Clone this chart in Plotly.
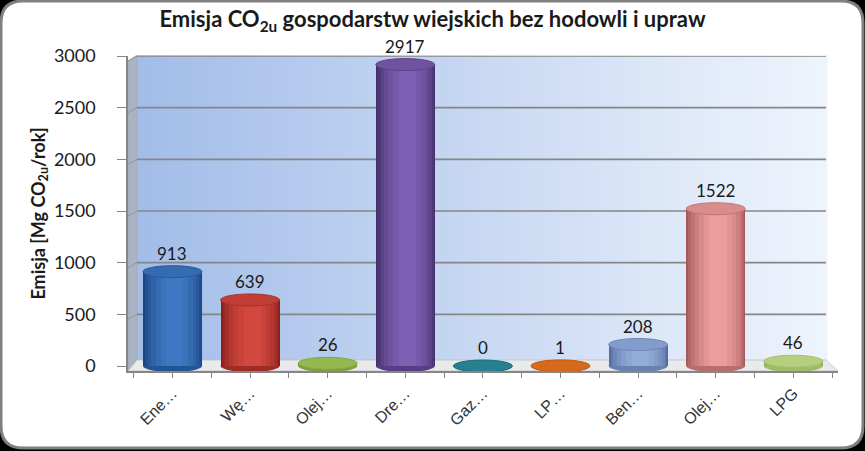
import plotly.graph_objects as go

# data
categories = ["Ene…", "Wę…", "Olej…", "Dre…", "Gaz…", "LP…", "Ben…", "Olej…", "LPG"]
emission = [913, 639, 26, 2917, 0, 1, 208, 1522, 46]
y_ticks = [0, 500, 1000, 1500, 2000, 2500, 3000]

# cylinder colours: dark edge -> highlight
edge_colors = ["#1a4582", "#8a1f1c", "#6f9130", "#44306b", "#18606e", "#ad4f0c", "#546ea0", "#a45a5a", "#8fb058"]
light_colors = ["#3f78c2", "#d3483e", "#a3c55a", "#7d5fb3", "#2a8a9b", "#e47222", "#94acd9", "#eb9c9c", "#c0da8c"]

W, H = 865, 451
L, R, T, B = 128, 838, 56, 371  # plot area in pixels


def px(x):
    return (x - L) / (R - L)


def py(y):
    return (B - y) / (B - T)


def mix(c1, c2, t):
    a = [int(c1[i:i + 2], 16) for i in (1, 3, 5)]
    b = [int(c2[i:i + 2], 16) for i in (1, 3, 5)]
    return "#" + "".join("%02x" % round(a[k] + (b[k] - a[k]) * t) for k in range(3))


xs = list(range(len(categories)))
bar_w = 0.76

fig = go.Figure()

# stacked overlays of narrowing bars give a rough cylinder shading
layers = [(0.76, 0.0), (0.72, 0.2), (0.66, 0.4), (0.58, 0.58), (0.48, 0.74), (0.36, 0.88), (0.22, 1.0)]
for w, t in layers:
    shift = 0.03 * t
    fig.add_trace(go.Bar(
        x=xs, y=emission, width=w, offset=-w / 2 + shift,
        marker=dict(color=[mix(e, l, t) for e, l in zip(edge_colors, light_colors)], line_width=0),
        hoverinfo="skip", showlegend=False,
    ))

shapes = []

# white card with rounded corners on black
x0, y0, x1, y1, r = 1, 1, 863, 448, 22
path = (f"M {px(x0 + r)},{py(y0)} L {px(x1 - r)},{py(y0)} Q {px(x1)},{py(y0)} {px(x1)},{py(y0 + r)} "
        f"L {px(x1)},{py(y1 - r)} Q {px(x1)},{py(y1)} {px(x1 - r)},{py(y1)} "
        f"L {px(x0 + r)},{py(y1)} Q {px(x0)},{py(y1)} {px(x0)},{py(y1 - r)} "
        f"L {px(x0)},{py(y0 + r)} Q {px(x0)},{py(y0)} {px(x0 + r)},{py(y0)} Z")
shapes.append(dict(type="path", path=path, xref="paper", yref="paper", layer="below",
                   fillcolor="white", line=dict(color="#7f7f7f", width=3)))

# back wall gradient
n = 60
wx0, wx1, wy0, wy1 = 137, 826, 55, 360
for i in range(n):
    a = wx0 + (wx1 - wx0) * i / n
    b = wx0 + (wx1 - wx0) * (i + 1) / n
    shapes.append(dict(type="rect", xref="paper", yref="paper", layer="below",
                       x0=px(a), x1=px(b) + 0.002, y0=py(wy1), y1=py(wy0),
                       fillcolor=mix("#a3bde9", "#eef4fc", i / (n - 1)), line_width=0))

# side wall
shapes.append(dict(type="path", xref="paper", yref="paper", layer="below",
                   path=f"M {px(128)},{py(61)} L {px(137)},{py(55)} L {px(137)},{py(360)} L {px(128)},{py(371)} Z",
                   fillcolor="#a9b3c2", line=dict(color="#9aa3b0", width=0.5)))
# floor
shapes.append(dict(type="path", xref="paper", yref="paper", layer="below",
                   path=f"M {px(128)},{py(371)} L {px(137)},{py(360)} L {px(826)},{py(360)} L {px(838)},{py(371)} Z",
                   fillcolor="#e9eaec", line=dict(color="#b8bcc2", width=0.7)))

# gridlines on the back wall and side wall
for v in y_ticks[1:]:
    shapes.append(dict(type="line", xref="paper", yref="y", layer="below",
                       x0=px(137), x1=px(826), y0=v, y1=v, line=dict(color="#868686", width=1.6)))
    shapes.append(dict(type="line", xref="paper", yref="y", layer="below", ysizemode="pixel", yanchor=v,
                       x0=px(128), x1=px(137), y0=-5, y1=0, line=dict(color="#8e96a3", width=1)))

# cylinder bottoms and tops
for i, v in enumerate(emission):
    shapes.append(dict(type="circle", xref="x", yref="y", layer="below", ysizemode="pixel", yanchor=0,
                       x0=i - bar_w / 2, x1=i + bar_w / 2, y0=-6, y1=6,
                       fillcolor=mix(edge_colors[i], light_colors[i], 0.3), line_width=0))
    shapes.append(dict(type="circle", xref="x", yref="y", layer="above", ysizemode="pixel", yanchor=v,
                       x0=i - bar_w / 2, x1=i + bar_w / 2, y0=-6, y1=6,
                       fillcolor=mix(edge_colors[i], light_colors[i], 0.75),
                       line=dict(color=mix(edge_colors[i], light_colors[i], 0.4), width=1)))

# value labels
for i, v in enumerate(emission):
    fig.add_annotation(x=i, y=v, text=str(v), showarrow=False, yanchor="bottom", yshift=6,
                       font=dict(family="Lato", size=17, color="#1a1a1a"))

fig.update_layout(
    width=W, height=H,
    margin=dict(l=L, r=W - R, t=T, b=H - B, pad=0),
    paper_bgcolor="black", plot_bgcolor="rgba(0,0,0,0)",
    barmode="overlay", bargap=0,
    shapes=shapes,
    title=dict(text="Emisja CO<sub>2u</sub> gospodarstw wiejskich bez hodowli i upraw",
               x=0.5, xanchor="center", y=0.957, yanchor="middle",
               font=dict(family="Lato", size=22, color="#1a1a1a", weight="bold")),
    xaxis=dict(range=[-0.573, 8.576], tickmode="array", tickvals=xs, ticktext=categories,
               tickangle=-45, ticks="outside", ticklen=5, tickcolor="#868686",
               minor=dict(ticks="outside", tick0=-0.5, dtick=1, ticklen=5, tickcolor="#868686"),
               showline=True, linecolor="#868686", linewidth=1.5, showgrid=False, zeroline=False,
               tickfont=dict(family="Liberation Sans", size=16, color="#333333"), fixedrange=True),
    yaxis=dict(range=[-48.4, 3000], tickmode="array", tickvals=y_ticks,
               ticks="outside", ticklen=9, tickcolor="#868686", ticklabelstandoff=18,
               showline=True, linecolor="#868686", linewidth=1.5, showgrid=False, zeroline=False,
               tickfont=dict(family="Lato", size=18, color="#1a1a1a"),
               title=dict(text="Emisja [Mg CO<sub>2u</sub>/rok]", standoff=4,
                          font=dict(family="Lato", size=18, color="#1a1a1a", weight="bold")),
               fixedrange=True),
)

fig.write_html("out.html", config={"displayModeBar": False},
               post_script="document.body.style.margin='0';")
